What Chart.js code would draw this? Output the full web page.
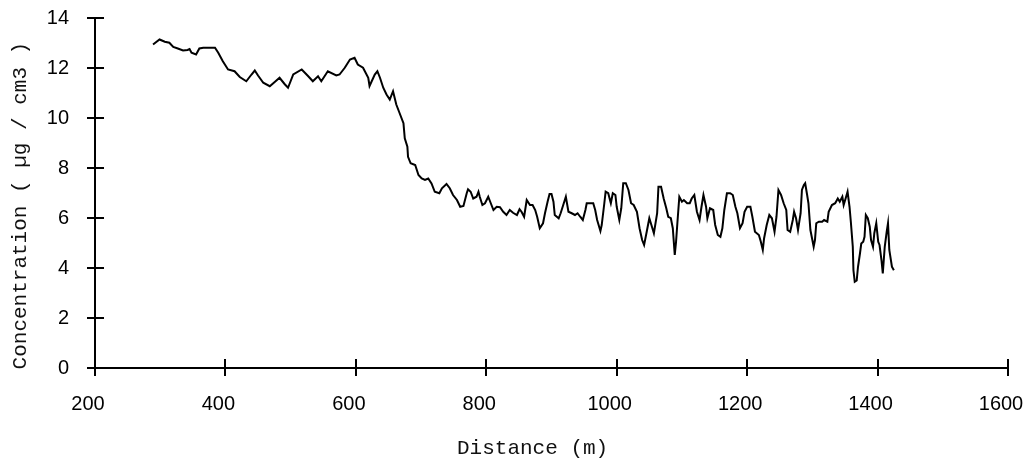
<!DOCTYPE html>
<html>
<head>
<meta charset="utf-8">
<script src="https://cdn.jsdelivr.net/npm/chart.js@4"></script>
<style>
  html, body { margin: 0; padding: 0; background: #fff; }
  canvas { display: block; }
</style>
</head>
<body>
<canvas id="graph" width="1023" height="461"></canvas>
<script>
// distance along the transect (m)
var distance = [289,299,307,314,320,327,335,342,345,348,355,360,366,384,389,396,404,414,422,432,440,445,450,458,468,476,483,491,496,504,
  517,527,534,542,547,557,570,575,583,591,598,603,611,619,621,629,633,637,642,647,652,657,662,667,673,675,679,680,684,691,
  696,701,706,711,716,721,728,732,739,744,749,755,760,765,770,772,776,780,785,788,790,794,798,803,806,811,816,821,826,831,
  836,841,847,851,854,858,862,867,871,875,878,882,887,890,894,897,900,903,905,911,914,918,922,926,931,936,940,944,948,952,
  954,959,964,967,970,975,977,981,983,987,991,994,998,1000,1004,1007,1010,1014,1018,1022,1026,1031,1035,1039,1042,1046,1050,1054,1057,1062,
  1064,1068,1072,1076,1079,1083,1086,1089,1091,1093,1096,1100,1103,1108,1112,1115,1119,1123,1127,1130,1133,1137,1139,1143,1148,1151,1155,1159,1162,1165,
  1169,1174,1178,1182,1185,1189,1193,1196,1200,1205,1208,1212,1218,1221,1224,1226,1230,1234,1238,1242,1245,1248,1252,1256,1260,1262,1266,1270,1272,1275,
  1278,1282,1284,1287,1289,1292,1294,1297,1300,1302,1304,1306,1310,1315,1318,1323,1325,1330,1335,1339,1342,1346,1348,1351,1354,1357,1359,1362,1363,1365,
  1368,1370,1373,1375,1378,1380,1382,1385,1388,1390,1393,1395,1398,1401,1403,1406,1408,1411,1414,1416,1418,1422,1425];
// concentration (µg/cm3)
var concentration = [12.94,13.14,13.05,13.01,12.84,12.78,12.70,12.72,12.76,12.61,12.54,12.78,12.81,12.81,12.61,12.27,11.94,11.87,11.64,11.47,11.74,11.90,11.70,11.41,11.27,11.45,11.61,11.35,11.21,11.74,
  11.94,11.67,11.47,11.67,11.47,11.87,11.70,11.74,12.01,12.34,12.41,12.14,12.01,11.61,11.28,11.74,11.87,11.61,11.21,10.94,10.74,11.07,10.54,10.20,9.79,9.19,8.85,8.45,8.19,8.12,
  7.72,7.58,7.52,7.58,7.38,7.05,6.99,7.19,7.36,7.19,6.92,6.72,6.45,6.48,6.99,7.15,7.05,6.78,6.85,7.05,6.85,6.52,6.59,6.85,6.65,6.32,6.45,6.43,6.25,6.12,
  6.32,6.21,6.12,6.35,6.25,6.05,6.72,6.52,6.52,6.32,6.05,5.59,5.79,6.19,6.65,6.96,6.96,6.65,6.12,5.99,6.19,6.52,6.85,6.25,6.19,6.12,6.19,6.05,5.92,6.32,
  6.59,6.59,6.59,6.32,5.92,5.48,5.72,6.59,7.05,6.99,6.59,6.99,6.92,6.45,5.92,6.39,7.39,7.39,7.12,6.59,6.52,6.25,5.59,5.12,4.92,5.45,5.99,5.65,5.39,6.19,
  7.25,7.25,6.78,6.39,6.05,5.99,5.59,4.52,5.05,5.79,6.85,6.65,6.72,6.59,6.59,6.78,6.92,6.25,5.92,6.45,6.92,6.45,5.99,6.39,6.32,5.72,5.32,5.25,5.59,6.32,
  6.99,6.99,6.92,6.45,6.19,5.59,5.79,6.25,6.45,6.45,6.05,5.45,5.32,5.05,4.72,5.19,5.72,6.12,5.99,5.45,6.05,7.12,6.92,6.59,6.32,5.52,5.45,5.92,6.25,5.99,
  5.52,6.19,7.12,7.32,7.39,6.92,6.59,5.52,5.12,4.85,5.12,5.79,5.85,5.85,5.92,5.85,6.25,6.52,6.59,6.78,6.65,6.85,6.52,6.78,7.05,6.45,5.85,4.85,3.91,3.45,
  3.50,4.05,4.58,4.98,5.05,5.25,6.12,5.99,5.65,5.12,4.85,5.39,5.79,5.05,4.92,4.31,3.78,4.85,5.45,5.79,4.72,4.05,3.91];

var xTicks = [200,400,600,800,1000,1200,1400,1600];
var yTicks = [0,2,4,6,8,10,12,14];
var xTitle = "Distance (m)   ";
var yTitle = "Concentration ( µg / cm3 )  ";

var points = [];
for (var i = 0; i < distance.length; i++) {
  points.push({x: distance[i], y: concentration[i]});
}

// tick marks cross the axis: draw the inner half
var crossTicks = {
  id: 'crossTicks',
  afterDraw: function(chart) {
    var ctx = chart.ctx;
    var a = chart.chartArea;
    var xs = chart.scales.x, ys = chart.scales.y;
    ctx.save();
    ctx.strokeStyle = '#000';
    ctx.lineWidth = 2;
    ctx.beginPath();
    xs.ticks.forEach(function(t) {
      var px = Math.round(xs.getPixelForValue(t.value));
      ctx.moveTo(px, a.bottom);
      ctx.lineTo(px, a.bottom - 9);
    });
    ys.ticks.forEach(function(t) {
      var py = Math.round(ys.getPixelForValue(t.value));
      ctx.moveTo(a.left, py);
      ctx.lineTo(a.left + 9, py);
    });
    ctx.stroke();
    ctx.restore();
  }
};

var tickFont = {family: "'Liberation Sans', Arial, sans-serif", size: 20};
var titleFont = {family: "'Liberation Mono', 'Courier New', monospace", size: 21};
function plain(v) { return String(v); }

new Chart("graph", {
  type: "line",
  data: {
    datasets: [{
      data: points,
      fill: false,
      borderColor: "#000",
      borderWidth: 2,
      pointRadius: 0,
      tension: 0
    }]
  },
  plugins: [crossTicks],
  options: {
    responsive: false,
    animation: false,
    layout: {padding: {top: 18, right: 15, left: 0, bottom: 0}},
    plugins: {legend: {display: false}, tooltip: {enabled: false}},
    scales: {
      x: {
        type: "linear",
        min: 200,
        max: 1600,
        afterBuildTicks: function(s) { s.ticks = xTicks.map(function(v) { return {value: v}; }); },
        afterFit: function(s) { s.height = 93; s.paddingLeft = 0; s.paddingRight = 0; },
        grid: {drawOnChartArea: false, color: "#000", lineWidth: 2, tickLength: 8},
        border: {color: "#000", width: 2},
        ticks: {color: "#000", font: tickFont, padding: 16, labelOffset: -7, maxRotation: 0, callback: plain},
        title: {display: true, text: xTitle, color: "#111", font: titleFont, padding: {top: 0, bottom: 0}}
      },
      y: {
        min: 0,
        max: 14,
        afterBuildTicks: function(s) { s.ticks = yTicks.map(function(v) { return {value: v}; }); },
        afterFit: function(s) { s.width = 95; s.paddingTop = 0; s.paddingBottom = 0; },
        grid: {drawOnChartArea: false, color: "#000", lineWidth: 2, tickLength: 8},
        border: {color: "#000", width: 2},
        ticks: {color: "#000", font: tickFont, padding: 18, callback: plain},
        title: {display: true, text: yTitle, color: "#111", font: titleFont, padding: {top: 8, bottom: 0}}
      }
    }
  }
});
</script>
</body>
</html>
